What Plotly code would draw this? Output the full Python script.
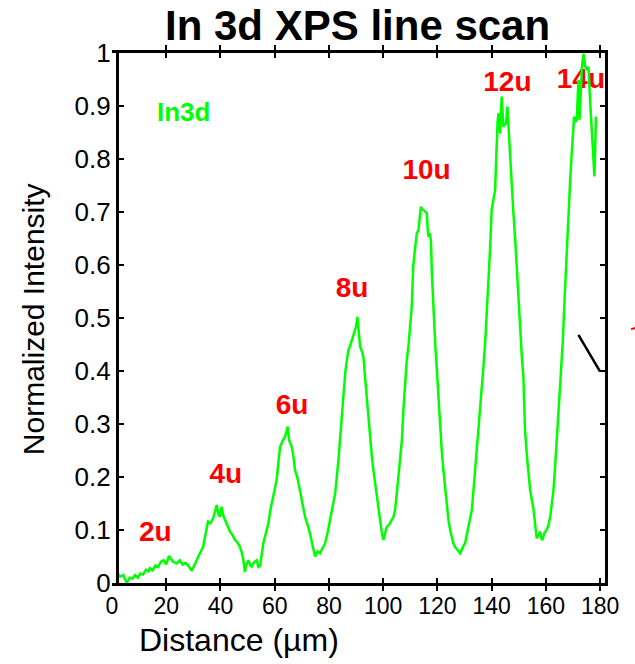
import plotly.graph_objects as go

distance = [
    1.7, 3.0, 4.2, 5.4, 6.5, 7.5, 8.5, 9.5, 10.5, 11.5, 12.5, 13.5, 14.0, 15.0, 16.0, 17.0,
    18.0, 19.0, 20.0, 21.0, 21.4, 22.5, 23.9, 25.0, 26.0, 27.0, 28.0, 29.4, 30.5, 31.7, 32.6,
    33.6, 34.5, 35.4, 36.3, 37.3, 38.0, 38.6, 39.2, 39.8, 40.4, 41.0, 41.7, 42.5, 43.5, 44.5,
    45.2, 46.0, 47.0, 47.8, 48.4, 49.0, 49.6, 50.3, 51.0, 51.5, 52.5, 53.4, 54.0, 54.6, 55.2,
    55.8, 56.8, 57.7, 58.3, 58.9, 59.8, 60.7, 61.4, 62.0, 62.9, 63.8, 64.3, 64.8, 65.3, 65.8,
    66.3, 67.0, 67.5, 68.4, 69.3, 70.2, 71.2, 72.1, 73.0, 74.0, 74.9, 75.8, 76.7, 77.6, 78.6,
    79.5, 80.4, 81.3, 82.3, 83.5, 84.7, 85.3, 86.0, 86.6, 87.2, 87.8, 88.4, 89.2, 90.0, 90.5,
    91.0, 91.5, 92.1, 92.7, 93.3, 93.9, 94.5, 95.2, 95.8, 96.4, 97.0, 97.6, 98.3, 98.9, 99.5,
    100.1, 100.7, 101.3, 102.2, 103.2, 103.8, 104.4, 105.0, 105.6, 106.2, 106.9, 107.5, 108.1,
    108.7, 109.3, 109.9, 110.5, 111.1, 111.7, 112.4, 113.0, 113.4, 113.9, 114.3, 114.8, 115.4,
    116.1, 116.4, 116.7, 117.2, 117.6, 118.0, 118.5, 119.2, 119.8, 120.4, 121.0, 121.6, 122.2,
    122.9, 123.5, 124.1, 124.7, 125.3, 125.9, 126.5, 127.1, 127.8, 128.4, 129.0, 129.6, 130.2,
    130.8, 131.4, 132.0, 132.7, 133.3, 133.9, 134.5, 135.1, 135.8, 136.4, 137.0, 137.6, 138.2,
    138.8, 139.4, 140.0, 140.6, 141.3, 141.6, 141.9, 142.2, 142.5, 142.8, 143.1, 143.4, 143.7,
    144.0, 144.3, 144.8, 145.3, 145.8, 146.2, 146.6, 147.0, 147.4, 148.0, 148.7, 149.3, 149.9,
    150.5, 151.1, 151.7, 152.3, 153.0, 153.6, 154.2, 154.8, 155.4, 156.0, 156.3, 156.6, 157.2,
    157.9, 158.3, 158.7, 159.5, 160.3, 161.0, 161.6, 162.2, 162.8, 163.4, 164.0, 164.6, 165.3,
    165.8, 166.2, 166.8, 167.5, 168.3, 168.9, 169.4, 169.9, 170.4, 170.9, 171.4, 172.0, 172.4,
    172.9, 173.3, 173.9, 174.5, 175.1, 175.7, 176.3, 176.8, 177.3, 177.9, 178.5,
]
intensity = [
    0.021, 0.012, 0.015, 0.000, 0.010, 0.008, 0.015, 0.010, 0.018, 0.016, 0.025, 0.022, 0.028,
    0.024, 0.033, 0.030, 0.040, 0.043, 0.035, 0.051, 0.048, 0.040, 0.037, 0.043, 0.035, 0.038,
    0.034, 0.023, 0.035, 0.050, 0.058, 0.068, 0.092, 0.116, 0.113, 0.122, 0.135, 0.147, 0.130,
    0.125, 0.144, 0.128, 0.119, 0.110, 0.097, 0.090, 0.082, 0.078, 0.070, 0.059, 0.045, 0.021,
    0.035, 0.043, 0.033, 0.031, 0.040, 0.043, 0.030, 0.032, 0.055, 0.075, 0.095, 0.113, 0.135,
    0.150, 0.172, 0.194, 0.230, 0.257, 0.268, 0.276, 0.285, 0.295, 0.270, 0.265, 0.257, 0.235,
    0.213, 0.198, 0.175, 0.150, 0.125, 0.110, 0.094, 0.070, 0.050, 0.060, 0.056, 0.065, 0.075,
    0.095, 0.119, 0.145, 0.169, 0.232, 0.320, 0.360, 0.396, 0.420, 0.440, 0.447, 0.458, 0.470,
    0.484, 0.502, 0.470, 0.446, 0.438, 0.427, 0.390, 0.352, 0.310, 0.270, 0.240, 0.213, 0.190,
    0.169, 0.140, 0.113, 0.095, 0.081, 0.095, 0.106, 0.110, 0.119, 0.125, 0.138, 0.165, 0.200,
    0.232, 0.270, 0.330, 0.383, 0.420, 0.446, 0.480, 0.518, 0.600, 0.630, 0.660, 0.666, 0.690,
    0.710, 0.706, 0.704, 0.700, 0.698, 0.670, 0.653, 0.660, 0.647, 0.580, 0.510, 0.450, 0.402,
    0.345, 0.289, 0.250, 0.213, 0.175, 0.138, 0.118, 0.100, 0.085, 0.075, 0.068, 0.065, 0.060,
    0.056, 0.065, 0.070, 0.075, 0.090, 0.100, 0.120, 0.138, 0.175, 0.213, 0.245, 0.276, 0.320,
    0.364, 0.410, 0.452, 0.505, 0.570, 0.628, 0.704, 0.720, 0.742, 0.790, 0.842, 0.870, 0.886,
    0.870, 0.848, 0.880, 0.918, 0.890, 0.861, 0.865, 0.867, 0.899, 0.860, 0.817, 0.780, 0.742,
    0.700, 0.647, 0.590, 0.534, 0.465, 0.430, 0.389, 0.289, 0.240, 0.200, 0.175, 0.157, 0.140,
    0.113, 0.095, 0.084, 0.090, 0.097, 0.085, 0.081, 0.095, 0.100, 0.110, 0.125, 0.150, 0.175,
    0.220, 0.264, 0.320, 0.377, 0.420, 0.452, 0.525, 0.610, 0.691, 0.754, 0.800, 0.848, 0.880,
    0.870, 0.874, 0.949, 0.874, 0.930, 0.974, 0.999, 0.974, 0.970, 0.974, 0.911, 0.870, 0.830,
    0.767, 0.880,
]

# Stripe-width labels above each peak
peak_labels = ["2u", "4u", "6u", "8u", "10u", "12u", "14u"]
label_x = [16.0, 42.0, 66.4, 88.5, 116.0, 145.8, 172.9]
label_y = [0.092, 0.202, 0.332, 0.553, 0.776, 0.942, 0.948]

x_ticks = [0, 20, 40, 60, 80, 100, 120, 140, 160, 180]
y_ticks = [0, 0.1, 0.2, 0.3, 0.4, 0.5, 0.6, 0.7, 0.8, 0.9, 1]
y_tick_text = ["0", "0.1", "0.2", "0.3", "0.4", "0.5", "0.6", "0.7", "0.8", "0.9", "1"]

FONT = "Liberation Sans, Arial, Helvetica, sans-serif"
GREEN = "#00ff00"
RED = "#ff0000"

fig = go.Figure()

# labels drawn first so the curve passes over them (as in the reference)
fig.add_trace(go.Scatter(
    x=label_x, y=label_y, mode="text", text=peak_labels,
    textfont=dict(family=FONT, size=28, color=RED, weight="bold"),
    textposition="middle center", hoverinfo="skip", showlegend=False,
    cliponaxis=False,
))

fig.add_trace(go.Scatter(
    x=distance, y=intensity, mode="lines",
    line=dict(color=GREEN, width=2.5), showlegend=False,
))

# empty trace that only activates the right-hand frame axis
fig.add_trace(go.Scatter(x=[], y=[], yaxis="y2", showlegend=False, hoverinfo="skip"))

frame = dict(
    showline=True, linecolor="black", linewidth=3,
    ticks="inside", ticklen=5, tickwidth=2, tickcolor="black",
    showgrid=False, zeroline=False,
)

fig.update_layout(
    xaxis=dict(
        range=[0, 181.8], tickvals=x_ticks, ticktext=[str(v) for v in x_ticks],
        tickfont=dict(family=FONT, size=23, color="black"), mirror="allticks", **frame,
    ),
    # left frame sits a few px right of x=0, as in the reference
    yaxis=dict(
        range=[0, 1], tickvals=y_ticks, ticktext=y_tick_text,
        tickfont=dict(family=FONT, size=26, color="black"), ticklabelstandoff=0,
        anchor="free", position=0.0101, mirror=False, **frame,
    ),
    yaxis2=dict(
        range=[0, 1], tickvals=y_ticks, showticklabels=False,
        overlaying="y", side="right", anchor="x", **frame,
    ),
)

annotations = [
    dict(text="In 3d XPS line scan", x=0.497, y=1.1, xref="paper", yref="paper",
         xanchor="center", yanchor="top", showarrow=False,
         font=dict(family=FONT, size=42, color="black", weight="bold")),
    dict(text="Distance (µm)", x=0.258, y=-0.1075, xref="paper", yref="paper",
         xanchor="center", yanchor="middle", showarrow=False,
         font=dict(family=FONT, size=32, color="black")),
    dict(text="Normalized Intensity", x=-0.159, y=0.497, xref="paper", yref="paper",
         xanchor="center", yanchor="middle", showarrow=False, textangle=-90,
         font=dict(family=FONT, size=30, color="black")),
    dict(text="In3d", x=0.145, y=0.888, xref="paper", yref="paper",
         xanchor="center", yanchor="middle", showarrow=False,
         font=dict(family=FONT, size=26, color=GREEN, weight="bold")),
]

shapes = [
    dict(type="line", xref="x", yref="y", x0=172.0, y0=0.468, x1=180.0, y1=0.399,
         line=dict(color="black", width=2.5)),
    dict(type="line", xref="paper", yref="paper", x0=1.053, y0=0.479, x1=1.061, y1=0.481,
         line=dict(color=RED, width=2)),
]

fig.update_layout(
    width=635, height=664,
    margin=dict(l=112, r=30, t=53, b=81, pad=0),
    paper_bgcolor="white", plot_bgcolor="white",
    annotations=annotations, shapes=shapes,
    showlegend=False,
)

# remove the browser's default 8px body margin so the figure fills the window exactly
fig.write_html(
    "out.html",
    config={"displayModeBar": False},
    post_script="document.body.style.margin='0';document.body.style.overflow='hidden';",
)
